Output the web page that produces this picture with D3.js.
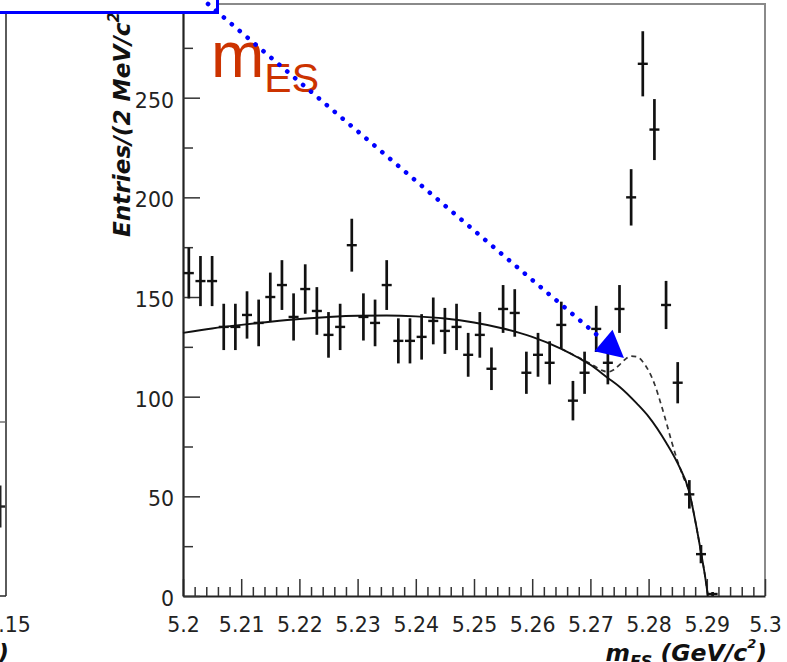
<!DOCTYPE html>
<html>
<head>
<meta charset="utf-8">
<script src="https://cdn.jsdelivr.net/npm/d3@7"></script>
<style>
  body { margin: 0; background: #fff; }
  svg { display: block; }
</style>
</head>
<body>
<svg id="chart" width="787" height="662"></svg>
<script>
// ---- m_ES distribution: 2 MeV bins from 5.200 to 5.300 GeV/c^2 ----
const binLow = 5.200;
const binWidth = 0.002;
const entries = [162, 158, 158, 135, 135, 141, 137, 150, 156, 140,
                 154, 143, 131, 135, 176, 140, 137, 156, 128, 128,
                 130, 138, 133, 135, 121, 131, 114, 144, 142, 112,
                 121, 117, 136,  98, 112, 134, 117, 144, 200, 267,
                 234, 146, 107,  51,  21,   1,   0,   0,   0,   0];

// ARGUS background fit (solid line), sampled along m_ES
const bgMass  = [5.200, 5.205, 5.210, 5.215, 5.220, 5.225, 5.230, 5.235, 5.240, 5.245,
                 5.250, 5.255, 5.260, 5.265, 5.268, 5.270, 5.273, 5.275, 5.278, 5.280,
                 5.283, 5.285, 5.287, 5.288, 5.289, 5.2897, 5.2902];
const bgValue = [132.0, 134.2, 136.0, 137.6, 139.0, 140.0, 140.6, 140.7, 140.3, 139.2,
                 137.2, 134.2, 130.0, 124.0, 119.4, 116.0, 109.4, 105.0,  96.5,  90.0,
                  77.0,  66.5,  52.0,  38.0,  22.0,  10.0,   0.0];

// Background + signal (dashed line)
const totMass  = [5.265, 5.268, 5.270, 5.272, 5.273, 5.274, 5.275, 5.276, 5.277, 5.278,
                  5.279, 5.280, 5.281, 5.282, 5.283, 5.284, 5.285, 5.286, 5.287, 5.288,
                  5.289, 5.2897, 5.2902];
const totValue = [124.1, 119.6, 116.6, 113.2, 112.4, 113.5, 116.0, 118.8, 120.3, 120.0,
                  117.5, 113.0, 106.5,  97.5,  87.5,  77.0,  67.5,  59.5,  52.0,  38.0,
                   22.0,  10.0,   0.0];

// Axis ticks
const xMajor = [5.20, 5.21, 5.22, 5.23, 5.24, 5.25, 5.26, 5.27, 5.28, 5.29, 5.30];
const xMajorLabels = ["5.2", "5.21", "5.22", "5.23", "5.24", "5.25", "5.26", "5.27", "5.28", "5.29", "5.3"];
const yMajor = [0, 50, 100, 150, 200, 250];
const yMinor = [25, 75, 125, 175, 225, 275];

// Neighbouring panel (Delta E side), only its right edge is on the page
const leftMass = [5.149];
const leftEntries = [18];

// ---- scales ----
const x = d3.scaleLinear().domain([5.2, 5.3]).range([183, 765]);
const y = d3.scaleLinear().domain([0, 297]).range([596, 4]);
const xLeft = d3.scaleLinear().domain([5.10, 5.15]).range([6 - 291, 6]);
const yLeft = d3.scaleLinear().domain([0, 35]).range([596, 422]);

const svg = d3.select("#chart");
const tickFont = "DejaVu Sans, Liberation Sans, sans-serif";

// ---- neighbouring panel edge ----
const lp = svg.append("g");
lp.append("line").attr("x1", 6).attr("x2", 6).attr("y1", 10).attr("y2", 596)
  .attr("stroke", "#333").attr("stroke-width", 1.6);
lp.append("line").attr("x1", 0).attr("x2", 6).attr("y1", 596).attr("y2", 596)
  .attr("stroke", "#333").attr("stroke-width", 1.6);
lp.append("line").attr("x1", 0).attr("x2", 6).attr("y1", yLeft(35)).attr("y2", yLeft(35))
  .attr("stroke", "#666").attr("stroke-width", 1.4);
leftMass.forEach((m, i) => {
  const n = leftEntries[i], e = Math.sqrt(n);
  lp.append("line").attr("x1", xLeft(m)).attr("x2", xLeft(m))
    .attr("y1", yLeft(n + e)).attr("y2", yLeft(n - e))
    .attr("stroke", "#222").attr("stroke-width", 2.6);
  lp.append("line").attr("x1", xLeft(m - 0.00086)).attr("x2", xLeft(m + 0.00086))
    .attr("y1", yLeft(n)).attr("y2", yLeft(n))
    .attr("stroke", "#222").attr("stroke-width", 2.4);
});
lp.append("text").attr("x", 8).attr("y", 631.5).attr("text-anchor", "middle")
  .attr("font-family", tickFont).attr("font-size", 20.5).attr("fill", "#222").text("5.15");
lp.append("text").attr("x", 9).attr("y", 661).attr("text-anchor", "end")
  .attr("font-family", tickFont).attr("font-size", 23.5).attr("font-weight", "bold")
  .attr("font-style", "italic").attr("fill", "#111").text("(GeV)");

// ---- frame ----
svg.append("path")
  .attr("d", `M${x(5.2)},${y(297)}H${x(5.3)}V${y(0)}`)
  .attr("fill", "none").attr("stroke", "#8a8a8a").attr("stroke-width", 2);

// ---- axes ----
const xAxisMajor = d3.axisBottom(x).tickValues(xMajor).tickSizeInner(-17).tickSizeOuter(0)
  .tickPadding(21).tickFormat((d, i) => xMajorLabels[i]);
const xMinorVals = d3.range(0, 51).map(i => 5.2 + i * 0.002).filter((v, i) => i % 5 !== 0);
const xAxisMinor = d3.axisBottom(x).tickValues(xMinorVals).tickSizeInner(-9).tickSizeOuter(0)
  .tickFormat("");

const gx = svg.append("g").attr("transform", `translate(0,${y(0)})`).call(xAxisMajor);
const gxm = svg.append("g").attr("transform", `translate(0,${y(0)})`).call(xAxisMinor);
gxm.select(".domain").remove();

const yAxisMajor = d3.axisLeft(y).tickValues(yMajor).tickSizeInner(-17).tickSizeOuter(0)
  .tickPadding(9).tickFormat(d3.format("d"));
const yAxisMinor = d3.axisLeft(y).tickValues(yMinor).tickSizeInner(-10).tickSizeOuter(0)
  .tickFormat("");
const gy = svg.append("g").attr("transform", `translate(${x(5.2)},0)`).call(yAxisMajor);
const gym = svg.append("g").attr("transform", `translate(${x(5.2)},0)`).call(yAxisMinor);
gym.select(".domain").remove();

[gx, gxm, gy, gym].forEach(g => {
  g.attr("font-family", tickFont).attr("font-size", 20.5);
  g.selectAll(".tick line").attr("stroke", "#333").attr("stroke-width", 1.5);
  g.selectAll(".domain").attr("stroke", "#222").attr("stroke-width", 2.2);
  g.selectAll("text").attr("fill", "#222");
});
gy.selectAll("text").attr("dy", "0.47em");

// ---- fit curves ----
const line = d3.line().x(d => x(d[0])).y(d => y(d[1])).curve(d3.curveMonotoneX);
svg.append("path")
  .datum(totMass.map((m, i) => [m, totValue[i]]))
  .attr("d", line).attr("fill", "none")
  .attr("stroke", "#333").attr("stroke-width", 1.7).attr("stroke-dasharray", "5,4");
svg.append("path")
  .datum(bgMass.map((m, i) => [m, bgValue[i]]))
  .attr("d", line).attr("fill", "none")
  .attr("stroke", "#111").attr("stroke-width", 1.9);

// ---- data points with Poisson errors ----
const pts = entries.map((n, i) => ({ m: binLow + binWidth * (i + 0.5), n }))
  .filter(d => d.n > 0);
const gp = svg.append("g").attr("stroke", "#111");
gp.selectAll("line.v").data(pts).join("line").attr("class", "v")
  .attr("x1", d => x(d.m)).attr("x2", d => x(d.m))
  .attr("y1", d => y(d.n + Math.sqrt(d.n))).attr("y2", d => y(Math.max(0, d.n - Math.sqrt(d.n))))
  .attr("stroke-width", 2.7);
gp.selectAll("line.h").data(pts).join("line").attr("class", "h")
  .attr("x1", d => x(d.m - 0.43 * binWidth)).attr("x2", d => x(d.m + 0.43 * binWidth))
  .attr("y1", d => y(d.n)).attr("y2", d => y(d.n))
  .attr("stroke-width", 2.4);

// ---- axis titles ----
const titleFont = "DejaVu Sans, Liberation Sans, sans-serif";
const yt = svg.append("text")
  .attr("transform", "translate(130,237) rotate(-90)")
  .attr("font-family", titleFont).attr("font-size", 23.2)
  .attr("font-weight", "bold").attr("font-style", "italic").attr("fill", "#111");
yt.append("tspan").text("Entries/(2 MeV/c");
yt.append("tspan").attr("font-size", 15).attr("dy", -11).text("2");
yt.append("tspan").attr("dy", 11).text(")");

const xt = svg.append("text")
  .attr("x", 767).attr("y", 661).attr("text-anchor", "end")
  .attr("font-family", titleFont).attr("font-size", 23.5)
  .attr("font-weight", "bold").attr("font-style", "italic").attr("fill", "#111");
xt.append("tspan").text("m");
xt.append("tspan").attr("font-size", 16).attr("dy", 6).text("ES");
xt.append("tspan").attr("dy", -6).text(" (GeV/c");
xt.append("tspan").attr("font-size", 13).attr("dy", -13).text("2");
xt.append("tspan").attr("dy", 13).text(")");

// ---- slide annotation: highlighted box, label and pointer ----
svg.append("rect").attr("x", -10).attr("y", -10).attr("width", 227.5).attr("height", 22.5)
  .attr("fill", "#fff").attr("stroke", "#0000ff").attr("stroke-width", 3);

const lab = svg.append("text").attr("x", 211).attr("y", 77)
  .attr("font-family", "Liberation Sans, Arial, sans-serif").attr("fill", "#cc3300");
lab.append("tspan").attr("font-size", 64).text("m");
lab.append("tspan").attr("font-size", 41).attr("dy", 15).text("ES");

const tip = [624, 358], start = [208, 4];
const ux = (tip[0] - start[0]), uy = (tip[1] - start[1]);
const len = Math.hypot(ux, uy);
const u = [ux / len, uy / len];
const headLen = 27, headHalf = 14;
const base = [tip[0] - headLen * u[0], tip[1] - headLen * u[1]];
svg.append("line").attr("x1", start[0]).attr("y1", start[1])
  .attr("x2", base[0]).attr("y2", base[1])
  .attr("stroke", "#0000ff").attr("stroke-width", 4.6)
  .attr("stroke-linecap", "round").attr("stroke-dasharray", "0.1 10.3");
svg.append("polygon")
  .attr("points", [
    tip,
    [base[0] - headHalf * u[1], base[1] + headHalf * u[0]],
    [base[0] + headHalf * u[1], base[1] - headHalf * u[0]]
  ].map(p => p.join(",")).join(" "))
  .attr("fill", "#0000ff");
</script>
</body>
</html>
